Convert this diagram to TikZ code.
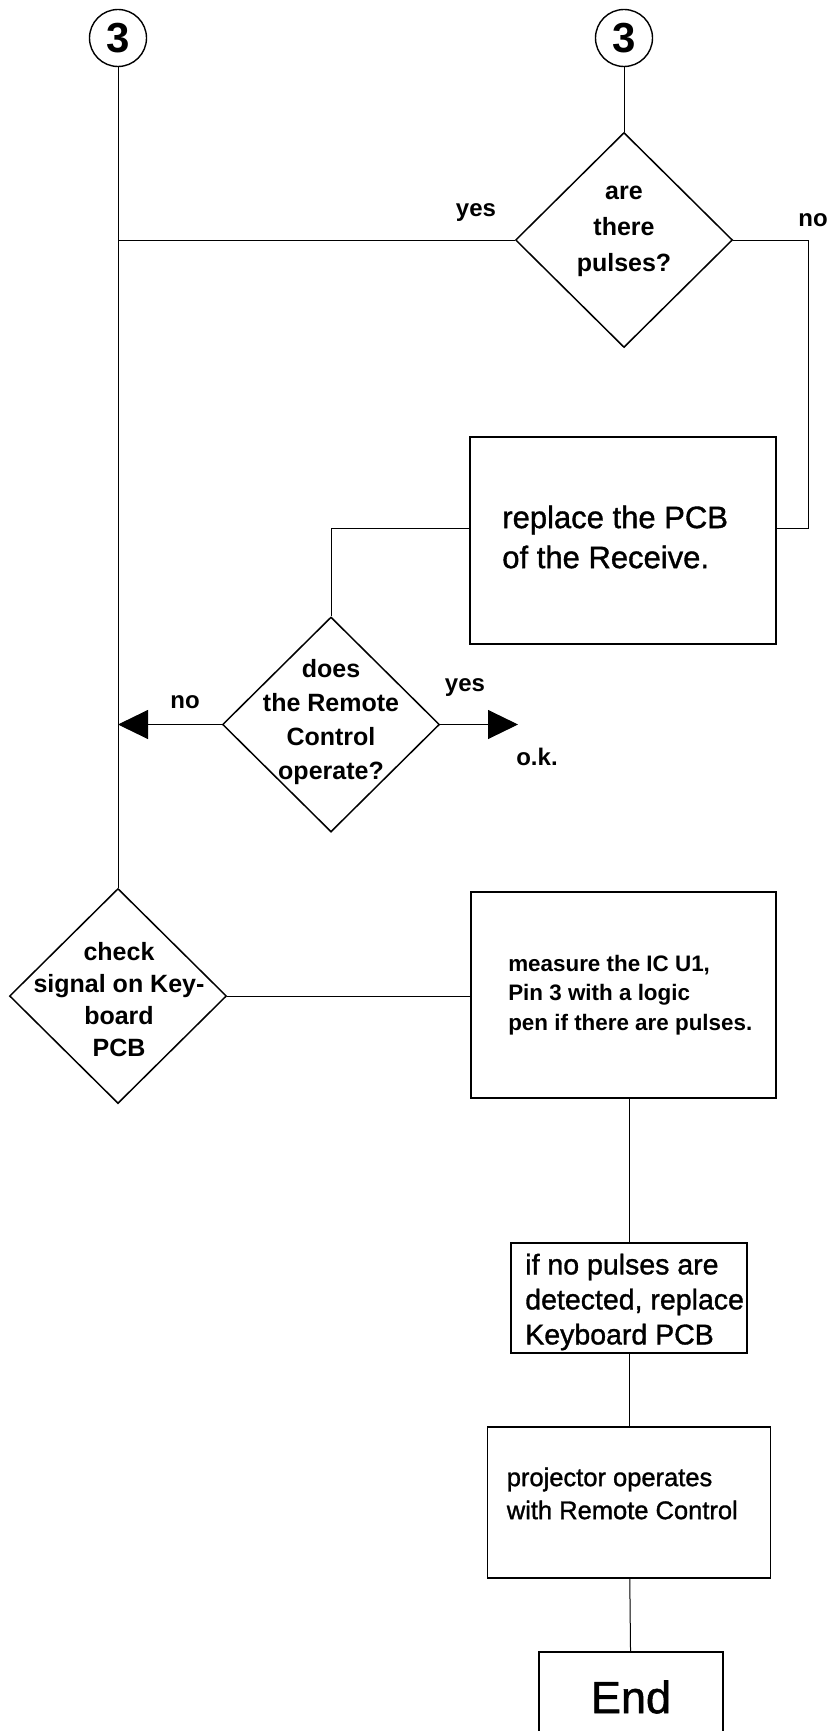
\documentclass[tikz,border=0pt]{standalone}
\usepackage{fontspec}
\setmainfont{Liberation Sans}
\newfontfamily\boxfont{Liberation Sans}[FakeBold=1.2]
\usetikzlibrary{shapes.geometric,arrows.meta}

\tikzset{
  conn/.style={line width=1pt},
  tip/.style={-{Triangle[length=30pt, width=29pt]}},
  conn3/.style={circle, draw, line width=1.4pt, minimum size=57pt, inner sep=0pt,
    font=\bfseries\fontsize{42}{42}\selectfont},
  decision/.style={diamond, draw, line width=1.5pt, inner sep=0pt,
    minimum width=217pt, minimum height=215pt},
  dtext/.style={font=\bfseries\fontsize{25}{#1}\selectfont, align=center, inner sep=0pt},
  dtext/.default=34,
  stepbox/.style={rectangle, draw, line width=1.8pt, inner sep=0pt},
  btext/.style={anchor=west, align=left, inner sep=0pt},
  lbl/.style={font=\bfseries\fontsize{24}{28}\selectfont, inner sep=0pt}
}

\begin{document}
\begin{tikzpicture}[x=1pt, y=-1pt]
    \useasboundingbox (0,0) rectangle (833,1731);
    \clip (0,0) rectangle (833,1731);

    % Connector circles
    \node[conn3] (c3a) at (118,38) {3};
    \node[conn3] (c3b) at (624,38) {3};

    % Are there pulses?
    \node[decision] (pulses) at (624,240) {};
    \node[dtext=36] (pulsestxt) at (624,231) {are\\there\\pulses?};
    \node[lbl] (yes1) at (476,213) {yes};
    \node[lbl] (no1) at (813,220) {no};
    \coordinate (noturn) at (808,240);

    % Receiver PCB
    \node[stepbox, minimum width=306pt, minimum height=207pt] (receive) at (623,540.5) {};
    \node[btext, font=\boxfont\fontsize{31}{40}\selectfont] (receivetxt)
        at ([xshift=33pt, yshift=3.5pt]receive.west) {replace the PCB\\of the Receive.};

    % Does the remote control operate?
    \node[decision] (does) at (331,724.5) {};
    \node[dtext] (doestxt) at (331,722) {does\\the Remote\\Control\\operate?};
    \node[lbl] (no2) at (185,702) {no};
    \node[lbl] (yes2) at (465,688) {yes};
    \coordinate (okend) at (518,724.5);
    \node[lbl] (ok) at (537,757) {o.k.};

    % Keyboard check
    \node[decision] (check) at (118,996) {};
    \node[dtext=32] (checktxt) at (119,1000) {check\\signal on Key-\\board\\PCB};

    \node[stepbox, minimum width=305pt, minimum height=206pt] (measure) at (623.5,995) {};
    \node[btext, font=\bfseries\fontsize{22.4}{29.5}\selectfont] (measuretxt)
        at ([xshift=38pt]measure.west) {measure the IC U1,\\Pin 3 with a logic\\pen if there are pulses.};

    \node[stepbox, minimum width=236pt, minimum height=110pt] (ifno) at (629,1298) {};
    \node[btext, font=\boxfont\fontsize{28.5}{35}\selectfont] (ifnotxt)
        at ([xshift=15pt, yshift=-4pt]ifno.west) {if no pulses are\\detected, replace\\Keyboard PCB};

    \node[stepbox, minimum width=283pt, minimum height=151pt] (proj) at (629,1502.5) {};
    \node[btext, font=\boxfont\fontsize{25.5}{33}\selectfont] (projtxt)
        at ([xshift=20pt, yshift=9pt]proj.west) {projector operates\\with Remote Control};

    \node[stepbox, minimum width=184pt, minimum height=90pt,
        font=\boxfont\fontsize{45}{45}\selectfont] (end) at (631,1697) {End};

    % Connectors
    \draw[conn] (c3a) -- (check);
    \draw[conn] (c3b) -- (pulses);
    \draw[conn] (pulses.west) -- (pulses.west -| c3a);
    \draw[conn] (pulses.east) -- (noturn) |- ([yshift=12.5pt]receive.east);
    \draw[conn] ([yshift=12.5pt]receive.west) -| (does.north);
    \draw[conn, tip] (does.west) -- (does.west -| c3a);
    \draw[conn, tip] (does.east) -- (okend);
    \draw[conn] (check.east) -- (measure.west |- check.east);
    \draw[conn] (ifno.north |- measure.south) -- (ifno.north);
    \draw[conn] (ifno) -- (proj);
    \draw[conn] (proj) -- (end);
\end{tikzpicture}
\end{document}
